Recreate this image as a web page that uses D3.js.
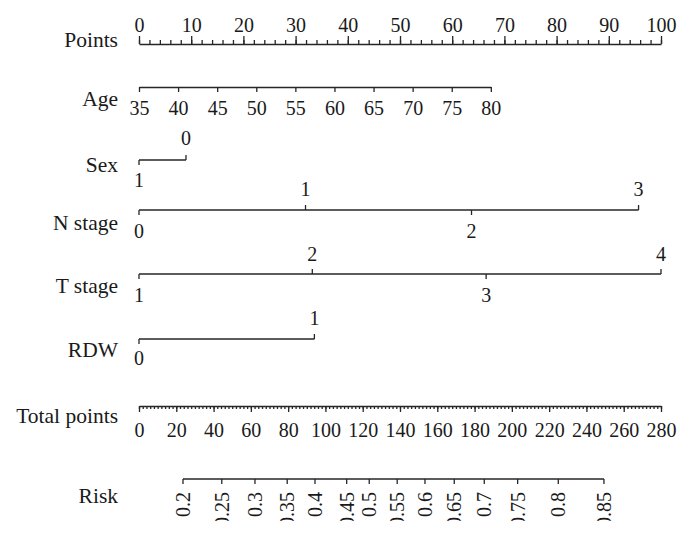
<!DOCTYPE html>
<html>
<head>
<meta charset="utf-8">
<script src="https://cdn.jsdelivr.net/npm/d3@7"></script>
<style>
  body { margin: 0; background: #fff; }
  svg text { font-family: "Liberation Serif", "DejaVu Serif", serif; fill: #1a1a1a; }
</style>
</head>
<body>
<div id="chart"></div>
<script>
// nomogram values
var pointsTicks = d3.range(0, 101, 10);
var pointsMinor = d3.range(0, 101, 2);
var ageTicks = [35, 40, 45, 50, 55, 60, 65, 70, 75, 80];
var agePoints = [0, 67.4];           // points for age 35 and age 80
var sexLevels = ["1", "0"];
var sexPoints = [0, 9.0];
var nLevels = ["0", "1", "2", "3"];
var nPoints = [0, 31.9, 63.7, 95.7];
var tLevels = ["1", "2", "3", "4"];
var tPoints = [0, 33.2, 66.5, 100];
var rdwLevels = ["0", "1"];
var rdwPoints = [0, 33.6];
var totalTicks = d3.range(0, 281, 20);
var totalMinor = d3.range(0, 281, 2);
var riskLevels = ["0.2", "0.25", "0.3", "0.35", "0.4", "0.45", "0.5", "0.55", "0.6", "0.65", "0.7", "0.75", "0.8", "0.85"];
var riskTotals = [23.6, 44.4, 62.2, 79.5, 94.4, 111.4, 123.5, 138.5, 153.4, 169.1, 185.2, 203.1, 224.9, 249.4];

var width = 690, height = 539;
var fs = 20;        // tick labels
var fsRow = 21.5;   // row names
var labelX = 118;
var ink = "#262626";

var svg = d3.select("#chart").append("svg")
  .attr("width", width)
  .attr("height", height);

// the original figure is cut off just under the risk labels
svg.append("defs").append("clipPath").attr("id", "crop")
  .append("rect").attr("x", 0).attr("y", 0).attr("width", width).attr("height", 521);

var x = d3.scaleLinear().domain([0, 100]).range([139, 661]);
var xTotal = d3.scaleLinear().domain([0, 280]).range([139, 661]);
var xAge = d3.scaleLinear().domain([35, 80]).range([x(agePoints[0]), x(agePoints[1])]);

function rowLabel(text, y) {
  svg.append("text")
    .attr("x", labelX)
    .attr("y", y)
    .attr("text-anchor", "end")
    .style("font-size", fsRow + "px")
    .text(text);
}

function styleAxis(g) {
  g.attr("font-family", null).attr("font-size", null);
  g.selectAll("text")
    .style("font-size", fs + "px")
    .attr("fill", "#1a1a1a");
  g.selectAll(".tick line").attr("stroke", ink).attr("stroke-width", 1.3);
  g.select(".domain").attr("stroke", ink).attr("stroke-width", 1.3);
}

// Points
var gPts = svg.append("g").attr("transform", "translate(0,44)");
gPts.call(d3.axisTop(x).tickValues(pointsMinor).tickSize(4).tickSizeOuter(0).tickFormat(""));
var gPtsMaj = svg.append("g").attr("transform", "translate(0,44)");
gPtsMaj.call(d3.axisTop(x).tickValues(pointsTicks).tickSize(8).tickSizeOuter(0));
gPtsMaj.select(".domain").remove();
styleAxis(gPts); styleAxis(gPtsMaj);
gPtsMaj.selectAll("text").attr("y", -12).attr("dy", 0);
rowLabel("Points", 47);

// Age
var gAge = svg.append("g").attr("transform", "translate(0,87)");
gAge.call(d3.axisBottom(xAge).tickValues(ageTicks).tickSize(5).tickSizeOuter(0));
styleAxis(gAge);
gAge.selectAll("text").attr("y", 28).attr("dy", 0);
rowLabel("Age", 106);

// categorical rows: labels alternate below / above the line
function catRow(name, levels, pts, y, labelY, upOff, downOff) {
  var g = svg.append("g").attr("transform", "translate(0," + y + ")");
  g.append("line")
    .attr("x1", x(d3.min(pts))).attr("x2", x(d3.max(pts)))
    .attr("y1", 0).attr("y2", 0)
    .attr("stroke", ink).attr("stroke-width", 1.3);
  var ticks = g.selectAll(".cat").data(levels).join("g")
    .attr("class", "cat")
    .attr("transform", function(d, i) { return "translate(" + x(pts[i]) + ",0)"; });
  ticks.append("line")
    .attr("y1", 0)
    .attr("y2", function(d, i) { return i % 2 === 0 ? 5 : -5; })
    .attr("stroke", ink).attr("stroke-width", 1.3);
  ticks.append("text")
    .attr("text-anchor", "middle")
    .attr("y", function(d, i) { return i % 2 === 0 ? downOff : -upOff; })
    .style("font-size", fs + "px")
    .text(function(d) { return d; });
  rowLabel(name, labelY);
}

catRow("Sex", sexLevels, sexPoints, 160, 172, 15, 27);
catRow("N stage", nLevels, nPoints, 210, 230, 14, 28);
catRow("T stage", tLevels, tPoints, 274, 293, 13, 28);
catRow("RDW", rdwLevels, rdwPoints, 339, 357, 14, 26);

// Total points
var gTot = svg.append("g").attr("transform", "translate(0,406)");
gTot.call(d3.axisBottom(xTotal).tickValues(totalMinor).tickSize(3).tickSizeOuter(0).tickFormat(""));
var gTotMaj = svg.append("g").attr("transform", "translate(0,406)");
gTotMaj.call(d3.axisBottom(xTotal).tickValues(totalTicks).tickSize(6).tickSizeOuter(0));
gTotMaj.select(".domain").remove();
styleAxis(gTot); styleAxis(gTotMaj);
gTotMaj.selectAll("text").attr("y", 31).attr("dy", 0);
rowLabel("Total points", 423);

// Risk
var riskG = svg.append("g").attr("clip-path", "url(#crop)");
riskG.append("line")
  .attr("x1", xTotal(d3.min(riskTotals))).attr("x2", xTotal(d3.max(riskTotals)))
  .attr("y1", 479).attr("y2", 479)
  .attr("stroke", ink).attr("stroke-width", 1.3);
var rt = riskG.selectAll(".risk").data(riskLevels).join("g")
  .attr("class", "risk")
  .attr("transform", function(d, i) { return "translate(" + xTotal(riskTotals[i]) + ",479)"; });
rt.append("line").attr("y1", 0).attr("y2", 5).attr("stroke", ink).attr("stroke-width", 1.3);
rt.append("text")
  .attr("transform", "translate(7,13) rotate(-90)")
  .attr("text-anchor", "end")
  .style("font-size", fs + "px")
  .text(function(d) { return d; });
rowLabel("Risk", 503);
</script>
</body>
</html>
